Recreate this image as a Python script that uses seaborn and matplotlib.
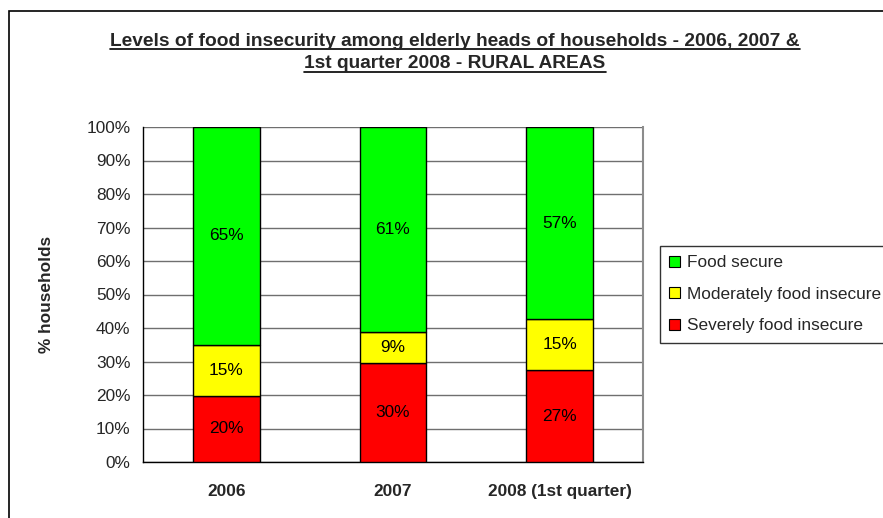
import matplotlib
matplotlib.use("Agg")
import matplotlib.pyplot as plt
import matplotlib.patches as mpatches
import seaborn as sns
import pandas as pd

years = ["2006", "2007", "2008 (1st quarter)"]
severely = [19.8, 29.6, 27.4]
moderately = [15.2, 9.3, 15.2]
secure = [65.0, 61.1, 57.4]
series_names = ["Food secure", "Moderately food insecure", "Severely food insecure"]
series_colors = {"Food secure": "#00FF00",
                 "Moderately food insecure": "#FFFF00",
                 "Severely food insecure": "#FF0000"}
y_ticks = list(range(0, 101, 10))

sns.set_style("white")
plt.rcParams["font.family"] = ["Liberation Sans", "DejaVu Sans"]
FS = 12.4

df = pd.DataFrame({"year": years, "severe": severely,
                   "moderate": moderately, "secure": secure})
df["b_mod"] = df["severe"]
df["b_sec"] = df["severe"] + df["moderate"]

fig = plt.figure(figsize=(8.83, 5.18), dpi=100)
ax = fig.add_axes([143 / 883, 1 - 462 / 518, (643 - 143) / 883, (462 - 127) / 518])

bar_kw = dict(width=0.4, edgecolor="black", linewidth=1.0, ax=ax, zorder=3)
sns.barplot(data=df, x="year", y="severe", color=series_colors["Severely food insecure"],
            saturation=1, **bar_kw)
sns.barplot(data=df, x="year", y="moderate", bottom=df["b_mod"],
            color=series_colors["Moderately food insecure"], saturation=1, **bar_kw)
sns.barplot(data=df, x="year", y="secure", bottom=df["b_sec"],
            color=series_colors["Food secure"], saturation=1, **bar_kw)

# value labels centred in each segment
for i in range(len(years)):
    for val, base in ((severely[i], 0), (moderately[i], severely[i]),
                      (secure[i], severely[i] + moderately[i])):
        ax.text(i, base + val / 2, f"{val:.0f}%", ha="center", va="center",
                fontsize=FS, color="black", zorder=4)

ax.set_xlim(-0.5, 2.5)
ax.set_ylim(0, 100)
ax.set_yticks(y_ticks)
ax.set_yticklabels([f"{t}%" for t in y_ticks], fontsize=FS)
ax.yaxis.grid(True, color="#6f6f6f", linewidth=1.0, zorder=0)
ax.set_axisbelow(True)

ax.set_xticks([-0.5, 0.5, 1.5, 2.5], minor=False)
ax.set_xticklabels([])
ax.set_xticks([0, 1, 2], minor=True)
ax.set_xticklabels(years, minor=True, fontsize=FS, fontweight="bold")
ax.tick_params(axis="x", which="major", direction="out", length=5, width=1, color="black")
ax.tick_params(axis="x", which="minor", length=0, pad=16)
ax.tick_params(axis="y", direction="out", length=5, width=1, color="black", pad=4)
ax.set_xlabel("")
ax.set_ylabel("% households", fontsize=FS, fontweight="bold", labelpad=23)

for side in ("left", "bottom"):
    ax.spines[side].set_color("black")
    ax.spines[side].set_linewidth(1.0)
ax.spines["top"].set_visible(False)
ax.spines["right"].set_color("#8c8c8c")
ax.spines["right"].set_linewidth(1.5)

# title, underlined
title_lines = ["Levels of food insecurity among elderly heads of households - 2006, 2007 &",
               "1st quarter 2008 - RURAL AREAS"]
fig.canvas.draw()
for k, line in enumerate(title_lines):
    t = fig.text(455 / 883, 1 - (41 + 23 * k) / 518, line, ha="center", va="center",
                 fontsize=13.8, fontweight="bold")
    bb = t.get_window_extent(renderer=fig.canvas.get_renderer())
    y0 = bb.y0 + 1
    fig.add_artist(plt.Line2D([bb.x0 / 883, bb.x1 / 883], [y0 / 518, y0 / 518],
                              transform=fig.transFigure, color="black", linewidth=1.2))

# outer chart frame
fig.add_artist(mpatches.Rectangle((8.5 / 883, -0.1), 1.2, 1 - 11 / 518 + 0.1,
                                  transform=fig.transFigure, fill=False,
                                  edgecolor="black", linewidth=1.2))

handles = [mpatches.Patch(facecolor=series_colors[n], edgecolor="black", linewidth=0.8, label=n)
           for n in series_names]
leg = fig.legend(handles=handles, loc="upper left", bbox_to_anchor=(660 / 883, 1 - 246 / 518),
                 frameon=True, fancybox=False, edgecolor="black", fontsize=FS,
                 handlelength=0.6, handleheight=0.6, handletextpad=0.4,
                 labelspacing=0.95, borderpad=0.55, borderaxespad=0)
leg.get_frame().set_linewidth(1.0)

fig.savefig("out.png", dpi=100)
